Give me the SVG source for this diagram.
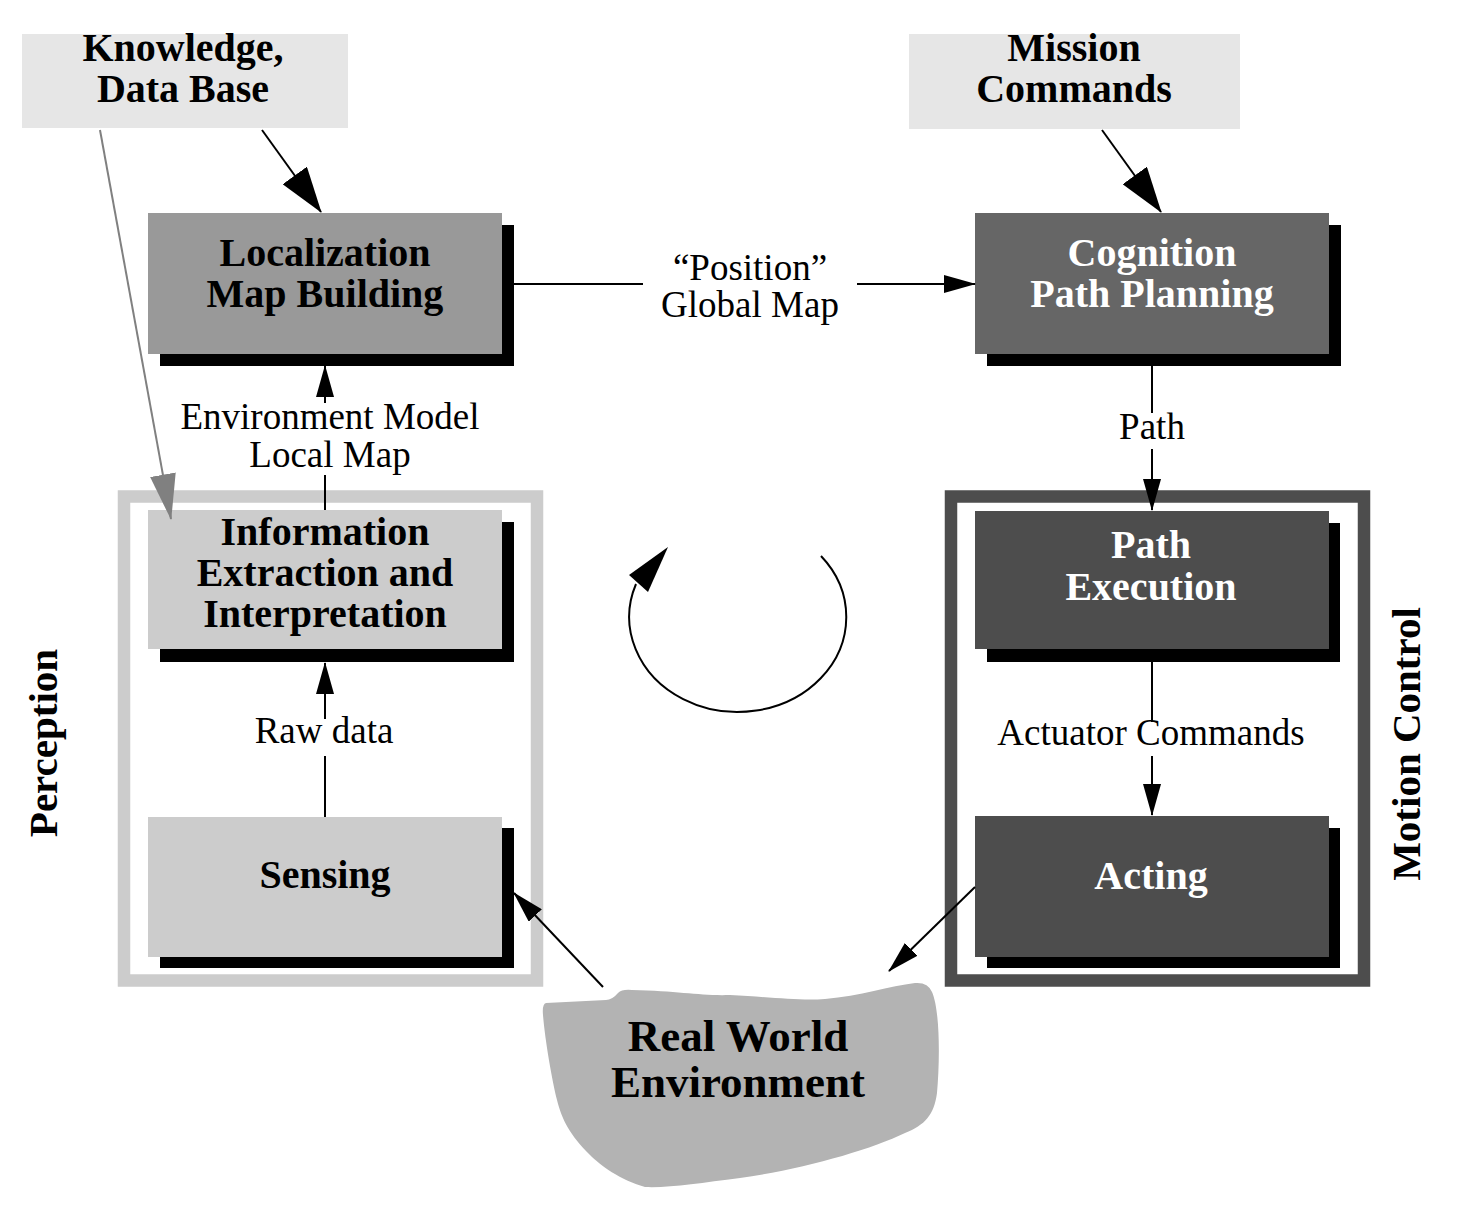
<svg xmlns="http://www.w3.org/2000/svg" width="1462" height="1217" viewBox="0 0 1462 1217">
<defs>
<style>
.b{font-family:"Liberation Serif","Times New Roman",serif;font-weight:bold;font-size:40px;text-anchor:middle}
.r{font-family:"Liberation Serif","Times New Roman",serif;font-size:37px;text-anchor:middle;fill:#000}
.w{fill:#fff}
.k{fill:#000}
.sh{fill:#000}
.ln{stroke:#000;stroke-width:2;fill:none}
</style>
<marker id="arr" viewBox="0 0 32 18" markerWidth="32" markerHeight="18" refX="31" refY="9" orient="auto" markerUnits="userSpaceOnUse"><path d="M0,0 L32,9 L0,18 z" fill="#000"/></marker>
<marker id="arrL" viewBox="0 0 46 30" markerWidth="46" markerHeight="30" refX="45" refY="15" orient="auto" markerUnits="userSpaceOnUse"><path d="M0,0 L46,15 L0,30 z" fill="#000"/></marker>
<marker id="arrG" viewBox="0 0 46 26" markerWidth="46" markerHeight="26" refX="45" refY="13" orient="auto" markerUnits="userSpaceOnUse"><path d="M0,0 L46,13 L0,26 z" fill="#808080"/></marker>
</defs>
<rect width="1462" height="1217" fill="#fff"/>

<g id="perception-frame">
<rect x="124" y="496.5" width="413" height="484" fill="none" stroke="#cccccc" stroke-width="12.5"/>
<text class="b k" style="font-size:41px" transform="translate(57,743) rotate(-90)">Perception</text>
</g>
<g id="motion-frame">
<rect x="951" y="496.5" width="413" height="484" fill="none" stroke="#4d4d4d" stroke-width="12.5"/>
<text class="b k" style="font-size:41px" transform="translate(1420,744) rotate(-90)">Motion Control</text>
</g>

<g id="knowledge">
<rect x="22" y="34" width="326" height="94" fill="#e6e6e6"/>
<text class="b k" x="183" y="61">Knowledge,</text>
<text class="b k" x="183" y="102">Data Base</text>
</g>
<g id="mission">
<rect x="909" y="34" width="331" height="95" fill="#e6e6e6"/>
<text class="b k" x="1074" y="61">Mission</text>
<text class="b k" x="1074" y="102">Commands</text>
</g>
<g id="localization">
<rect class="sh" x="160" y="225" width="354" height="141"/>
<rect x="148" y="213" width="354" height="141" fill="#999999"/>
<text class="b k" x="325" y="266">Localization</text>
<text class="b k" x="325" y="307">Map Building</text>
</g>
<g id="cognition">
<rect class="sh" x="987" y="225" width="354" height="141"/>
<rect x="975" y="213" width="354" height="141" fill="#666666"/>
<text class="b w" x="1152" y="266">Cognition</text>
<text class="b w" x="1152" y="307">Path Planning</text>
</g>
<g id="information">
<rect class="sh" x="160" y="522" width="354" height="140"/>
<rect x="148" y="510" width="354" height="139" fill="#cccccc"/>
<text class="b k" x="325" y="545">Information</text>
<text class="b k" x="325" y="586">Extraction and</text>
<text class="b k" x="325" y="627">Interpretation</text>
</g>
<g id="sensing">
<rect class="sh" x="160" y="828" width="354" height="140"/>
<rect x="148" y="817" width="354" height="140" fill="#cccccc"/>
<text class="b k" x="325" y="888">Sensing</text>
</g>
<g id="path-execution">
<rect class="sh" x="987" y="523" width="353" height="139"/>
<rect x="975" y="511" width="354" height="138" fill="#4d4d4d"/>
<text class="b w" x="1151" y="558">Path</text>
<text class="b w" x="1151" y="600">Execution</text>
</g>
<g id="acting">
<rect class="sh" x="987" y="828" width="353" height="140"/>
<rect x="975" y="816" width="354" height="141" fill="#4d4d4d"/>
<text class="b w" x="1151" y="889">Acting</text>
</g>
<g id="real-world">
<path d="M546,1003 L606,1000 Q612,1000 618,993 Q622,989 632,990 C680,991 700,996 730,995 C770,997 800,1001 825,999 C860,996 890,986 915,983 Q928,982 932,992 C940,1010 940,1060 937,1093 C934,1115 925,1125 905,1133 C870,1150 800,1170 740,1178 C700,1183 670,1188 645,1187 C620,1180 600,1165 590,1155 C570,1135 562,1120 557,1100 C552,1080 545,1040 543,1015 Q542,1004 546,1003 Z" fill="#b3b3b3"/>
<text class="b k" x="738" y="1051" style="font-size:45px">Real World</text>
<text class="b k" x="738" y="1097" style="font-size:45px">Environment</text>
</g>

<g id="connectors">
<line class="ln" x1="514" y1="284" x2="643" y2="284"/>
<line class="ln" x1="857" y1="284" x2="975" y2="284" marker-end="url(#arr)"/>
<text class="r" x="750" y="280">“Position”</text>
<text class="r" x="750" y="317">Global Map</text>

<line class="ln" x1="325" y1="510" x2="325" y2="475"/>
<line class="ln" x1="325" y1="403" x2="325" y2="366" marker-end="url(#arr)"/>
<text class="r" x="330" y="429">Environment Model</text>
<text class="r" x="330" y="467">Local Map</text>

<line class="ln" x1="325" y1="817" x2="325" y2="756"/>
<line class="ln" x1="325" y1="719" x2="325" y2="663" marker-end="url(#arr)"/>
<text class="r" x="324" y="743">Raw data</text>

<line class="ln" x1="1152" y1="366" x2="1152" y2="413"/>
<line class="ln" x1="1152" y1="449" x2="1152" y2="510" marker-end="url(#arr)"/>
<text class="r" x="1152" y="439">Path</text>

<line class="ln" x1="1152" y1="662" x2="1152" y2="722"/>
<line class="ln" x1="1152" y1="756" x2="1152" y2="815" marker-end="url(#arr)"/>
<text class="r" x="1151" y="745">Actuator Commands</text>

<line class="ln" x1="975" y1="887" x2="889" y2="971" marker-end="url(#arr)"/>
<line class="ln" x1="603" y1="987" x2="514" y2="893" marker-end="url(#arr)"/>

<line class="ln" x1="262" y1="130" x2="321" y2="212" marker-end="url(#arrL)"/>
<line class="ln" x1="1102" y1="130" x2="1161" y2="212" marker-end="url(#arrL)"/>
<line x1="100" y1="130" x2="171" y2="519" stroke="#808080" stroke-width="2" marker-end="url(#arrG)"/>

<path class="ln" d="M821,556 A108.5,95 0 1 1 636,584"/>
<polygon points="668,547 629,575 648,592" fill="#000"/>
</g>
</svg>
